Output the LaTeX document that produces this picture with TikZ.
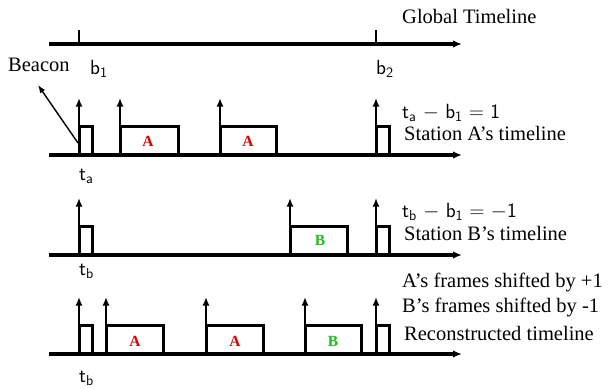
\documentclass[tikz,border=0pt]{standalone}
\usepackage{fontspec}
\setmainfont{Liberation Serif}
\usetikzlibrary{arrows.meta}
\definecolor{fred}{RGB}{220,0,0}
\definecolor{fgreen}{RGB}{30,190,30}
\newcommand\frm[4]{%
  \draw[uparrow] (#1,#3) -- (#1,#3-57);
  \draw[framebox] (#1,#3) -- (#1,#3-28.5) -- (#2,#3-28.5) -- (#2,#3);}
\begin{document}
\begin{tikzpicture}[x=1bp,y=-1bp,
  timeline/.style={line width=3.2bp,-{Latex[length=9bp,width=7.5bp]}},
  tick/.style={line width=2.2bp},
  uparrow/.style={line width=2.2bp,-{Latex[length=8.5bp,width=7bp]}},
  framebox/.style={line width=3bp,line cap=butt,line join=miter},
  lbl/.style={font=\fontsize{20.5bp}{24bp}\selectfont,inner sep=0pt,anchor=base west},
  slbl/.style={font=\fontsize{20.5bp}{24bp}\selectfont\sffamily,inner sep=0pt,anchor=base west},
  flbl/.style={font=\fontsize{15.5bp}{18bp}\selectfont\bfseries,inner sep=0pt,anchor=base},
  beaconarrow/.style={line width=1.4bp,-{Latex[length=8bp,width=6bp]}}]
\useasboundingbox (0,0) rectangle (614,388);
% global timeline
\coordinate (g0) at (49,44); \coordinate (g1) at (462,44);
\draw[timeline] (g0) -- (g1);
\draw[tick] (79,30) -- (79,44);
\draw[tick] (376,30) -- (376,44);
\node[lbl] (glob) at (402,23) {Global Timeline};
\node[slbl] (b1) at (90,74) {b$_{\mathsf{1}}$};
\node[slbl] (b2) at (376,74) {b$_{\mathsf{2}}$};
\node[lbl] (beacon) at (8,71) {Beacon};
% station A
\coordinate (a0) at (49,155); \coordinate (a1) at (462,155);
\draw[timeline] (a0) -- (a1);
\frm{79}{92}{155}{}
\frm{120}{178}{155}{}
\frm{220}{276}{155}{}
\frm{376}{389}{155}{}
\node[flbl,text=fred] (fa1) at (148,146) {A};
\node[flbl,text=fred] (fa2) at (248,146) {A};
\coordinate (bsrc) at (78,143);
\coordinate (btip) at (38,85);
\draw[beaconarrow] (bsrc) -- (btip);
\node[slbl] (ta) at (79,180) {t$_{\mathsf{a}}$};
\node[slbl] (eqa) at (402,118) {t$_{\mathsf{a}}$ $-$ b$_{\mathsf{1}}$ $=$ 1};
\node[lbl] (sta) at (404,140) {Station A's timeline};
% station B
\coordinate (s0) at (49,255); \coordinate (s1) at (462,255);
\draw[timeline] (s0) -- (s1);
\frm{79}{92}{255}{}
\frm{290}{347}{255}{}
\frm{376}{389}{255}{}
\node[flbl,text=fgreen] (fb1) at (320,245) {B};
\node[slbl] (tb) at (79,275) {t$_{\mathsf{b}}$};
\node[slbl] (eqb) at (402,217) {t$_{\mathsf{b}}$ $-$ b$_{\mathsf{1}}$ $=$ $-$1};
\node[lbl] (stb) at (404,240) {Station B's timeline};
% reconstructed
\coordinate (r0) at (49,354); \coordinate (r1) at (462,354);
\draw[timeline] (r0) -- (r1);
\frm{79}{92}{354}{}
\frm{106}{163}{354}{}
\frm{206}{263}{354}{}
\frm{305}{361}{354}{}
\frm{376}{389}{354}{}
\node[flbl,text=fred] (ra1) at (135,346) {A};
\node[flbl,text=fred] (ra2) at (235,346) {A};
\node[flbl,text=fgreen] (rb) at (333,346) {B};
\node[slbl] (tr) at (79,382) {t$_{\mathsf{b}}$};
\node[lbl] (sh1) at (402,287) {A's frames shifted by +1};
\node[lbl] (sh2) at (402,312) {B's frames shifted by -1};
\node[lbl] (rec) at (404,340) {Reconstructed timeline};
\end{tikzpicture}
\end{document}
